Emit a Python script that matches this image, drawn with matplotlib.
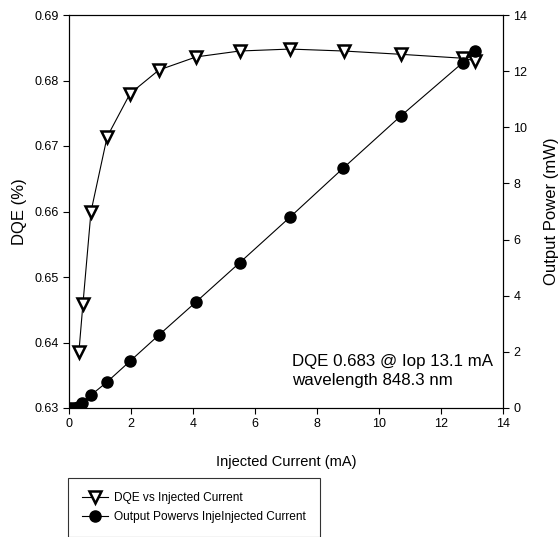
import numpy as np
import matplotlib.pyplot as plt

plt.rcParams['font.family'] = ['Liberation Sans', 'DejaVu Sans']

# Data
current_dqe = [0.32, 0.45, 0.71, 1.23, 1.97, 2.9, 4.1, 5.5, 7.13, 8.87, 10.7, 12.7, 13.1]
dqe = [0.6386, 0.6459, 0.660, 0.6714, 0.678, 0.6816, 0.6836, 0.6845, 0.6848, 0.6845, 0.6840, 0.6834, 0.6830]

current_pow = [0.0, 0.1, 0.2, 0.3, 0.42, 0.71, 1.23, 1.97, 2.9, 4.1, 5.5, 7.13, 8.85, 10.7, 12.7, 13.1]
power = [0.0, 0.0, 0.01, 0.03, 0.18, 0.46, 0.93, 1.67, 2.6, 3.78, 5.17, 6.8, 8.55, 10.4, 12.3, 12.7]

fig = plt.figure(figsize=(5.6, 5.37), dpi=100)
ax = fig.add_axes([69/560, 1-408/537, 434/560, 393/537])
ax2 = ax.twinx()

l1, = ax.plot(current_dqe, dqe, color='black', lw=0.8, marker='v', ms=8,
              mfc='white', mec='black', mew=1.8, label='DQE vs Injected Current', zorder=3)
l2, = ax2.plot(current_pow, power, color='black', lw=0.8, marker='o', ms=8,
               mfc='black', mec='black', label='Output Powervs InjeInjected Current', zorder=3)

ax.set_xlim(0, 14)
ax.set_ylim(0.63, 0.69)
ax2.set_ylim(0, 14)
ax.set_xticks(np.arange(0, 15, 2))
ax.set_yticks(np.arange(0.63, 0.6901, 0.01))
ax.set_yticklabels([f"{v:.2f}" for v in np.arange(0.63, 0.6901, 0.01)])
ax2.set_yticks(np.arange(0, 15, 2))

for a in (ax, ax2):
    a.tick_params(direction='out', length=4, width=0.8, labelsize=9)
    for s in a.spines.values():
        s.set_linewidth(0.8)

ax.set_xlabel("Injected Current (mA)", fontsize=10.5, labelpad=18)
ax.set_ylabel("DQE (%)", fontsize=12, labelpad=5)
ax2.set_ylabel("Output Power (mW)", fontsize=12, labelpad=12)

ax.text(7.2, 0.6357, "DQE 0.683 @ Iop 13.1 mA\nwavelength 848.3 nm", fontsize=12.2,
        ha='left', va='center', linespacing=1.35)

leg = fig.legend(handles=[l1, l2], loc='upper left', bbox_to_anchor=(68/560, 1-478/537),
                 fontsize=8.6, frameon=True, fancybox=False, edgecolor='black',
                 handlelength=2.2, borderpad=1.15, labelspacing=0.6, handletextpad=0.5,
                 borderaxespad=0)
leg.get_frame().set_linewidth(0.8)

fig.savefig("out.png", dpi=100)
